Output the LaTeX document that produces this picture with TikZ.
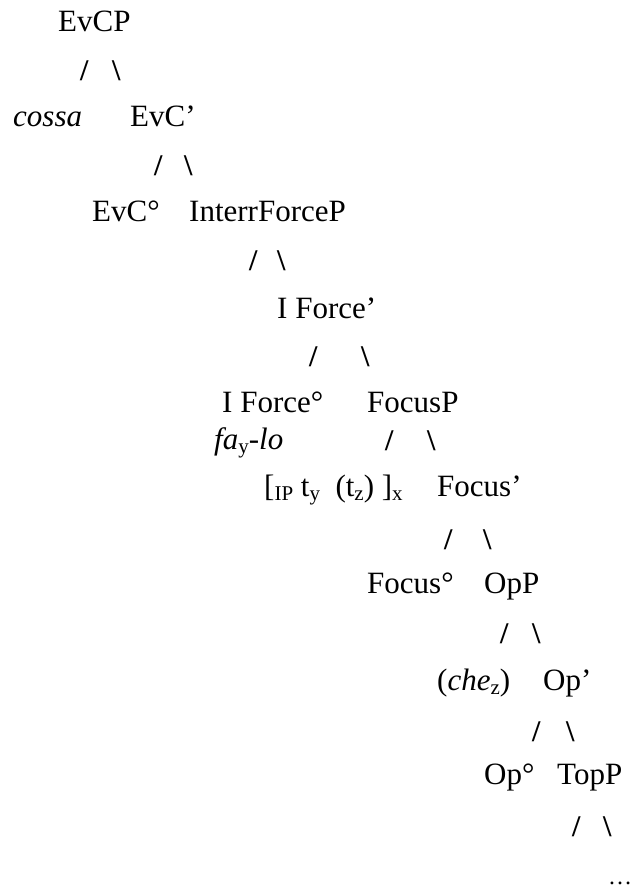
\documentclass[tikz,border=0pt]{standalone}
\usepackage{fontspec}
\setmainfont{Liberation Serif}
\newcommand\lsub[1]{\raisebox{-0.3ex}{\fontsize{21}{21}\selectfont\upshape #1}}
\begin{document}
\begin{tikzpicture}[x=1pt,y=-1pt,
  lbl/.style={anchor=base west,inner sep=0pt,font=\fontsize{31}{36}\selectfont},
  br/.style={anchor=base west,inner sep=0pt,font=\fontsize{30}{36}\selectfont\bfseries}]
\useasboundingbox (0,0) rectangle (636,890);
% row 0
\node[lbl] (evcp) at (58,32) {EvCP};
\node[br] (s1l) at (80,81) {/};
\node[br] (s1r) at (112,81) {\textbackslash};
% row 1
\node[lbl] (cossa) at (13,127) {\itshape cossa};
\node[lbl] (evcbar) at (130,127) {EvC’};
\node[br] (s2l) at (154,176) {/};
\node[br] (s2r) at (184,176) {\textbackslash};
% row 2
\node[lbl] (evc0) at (92,222) {EvC°};
\node[lbl] (ifp) at (189,222) {InterrForceP};
\node[br] (s3l) at (249,271) {/};
\node[br] (s3r) at (277,271) {\textbackslash};
% row 3
\node[lbl] (ifbar) at (277,318) {I Force’};
\node[br] (s4l) at (309,366) {/};
\node[br] (s4r) at (361,366) {\textbackslash};
% row 4
\node[lbl] (if0) at (222,412) {I Force°};
\node[lbl] (focp) at (367,412) {FocusP};
\node[lbl] (falo) at (214,449) {\itshape fa\lsub{y}-lo};
\node[br] (s5l) at (385,450) {/};
\node[br] (s5r) at (427,450) {\textbackslash};
% row 5
\node[lbl] (ip) at (264,496) {[\lsub{IP} t\lsub{y}\hspace{0.5em}(t\lsub{z}) ]\lsub{x}};
\node[lbl] (focbar) at (437,496) {Focus’};
\node[br] (s6l) at (444,549) {/};
\node[br] (s6r) at (483,549) {\textbackslash};
% row 6
\node[lbl] (foc0) at (367,593) {Focus°};
\node[lbl] (opp) at (484,593) {OpP};
\node[br] (s7l) at (500,643) {/};
\node[br] (s7r) at (532,643) {\textbackslash};
% row 7
\node[lbl] (che) at (437,690) {(\textit{che}\lsub{z})};
\node[lbl] (opbar) at (543,690) {Op’};
\node[br] (s8l) at (532,741) {/};
\node[br] (s8r) at (566,741) {\textbackslash};
% row 8
\node[lbl] (op0) at (484,784) {Op°};
\node[lbl] (topp) at (557,784) {TopP};
\node[br] (s9l) at (572,836) {/};
\node[br] (s9r) at (603,836) {\textbackslash};
% row 9
\node[lbl] (dots) at (608,884) {\fontsize{24}{24}\selectfont\dots};
\end{tikzpicture}
\end{document}
